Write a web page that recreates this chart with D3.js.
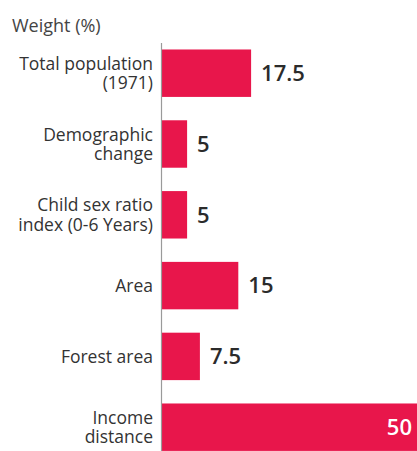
<!DOCTYPE html>
<html>
<head>
<meta charset="utf-8">
<script src="https://cdn.jsdelivr.net/npm/d3@7"></script>
<style>
  html, body { margin: 0; padding: 0; background: #fff; }
  svg { display: block; }
</style>
</head>
<body>
<div id="diagram"></div>
<script>
!(function () {
  'use strict'
  // - - - - - - - - - -
  // data
  const categories = [
    ['Total population', '(1971)'],
    ['Demographic', 'change'],
    ['Child sex ratio', 'index (0-6 Years)'],
    ['Area'],
    ['Forest area'],
    ['Income', 'distance']
  ];
  const weights = [17.5, 5, 5, 15, 7.5, 50];
  const valueLabels = ['17.5', '5', '5', '15', '7.5', '50'];

  // canvas
  const w = 417, h = 451;
  const axisX = 161.5;
  const labelX = 153;
  const font = '"Open Sans", "Noto Sans", sans-serif';

  const svg = d3.select('#diagram')
    .append('svg')
    .attr('width', w)
    .attr('height', h);

  const xScale = d3.scaleLinear()
    .domain([0, 50])
    .range([axisX, axisX + 256]);

  const yScale = d3.scaleBand()
    .domain(d3.range(categories.length))
    .range([37.8, 462.6])
    .paddingInner(0.33)
    .paddingOuter(0.165);

  // axis title
  svg.append('text')
    .attr('x', 12)
    .attr('y', 32)
    .attr('font-family', font)
    .attr('font-size', 18)
    .attr('fill', '#444')
    .text('Weight (%)');

  // bars
  svg.selectAll('rect.bar')
    .data(weights)
    .enter().append('rect')
    .attr('class', 'bar')
    .attr('x', xScale(0))
    .attr('y', (d, i) => yScale(i))
    .attr('width', d => xScale(d) - xScale(0))
    .attr('height', yScale.bandwidth())
    .attr('fill', '#e8164b');

  // axis line
  svg.append('line')
    .attr('x1', axisX).attr('x2', axisX)
    .attr('y1', 43).attr('y2', h)
    .attr('stroke', '#9a9a9a')
    .attr('stroke-width', 1.2);

  // category labels
  const lineH = 19.5;
  categories.forEach(function (lines, i) {
    const cy = yScale(i) + yScale.bandwidth() / 2;
    const y0 = cy - (lines.length - 1) * lineH / 2 + 6.3;
    lines.forEach(function (s, j) {
      svg.append('text')
        .attr('x', labelX)
        .attr('y', y0 + j * lineH)
        .attr('text-anchor', 'end')
        .attr('font-family', font)
        .attr('font-size', 17.5)
        .attr('fill', '#333')
        .text(s);
    });
  });

  // value labels
  const inside = d => xScale(d) > w - 40;
  svg.selectAll('text.val')
    .data(weights)
    .enter().append('text')
    .attr('class', 'val')
    .attr('x', d => inside(d) ? w - 5 : xScale(d) + 10)
    .attr('y', (d, i) => yScale(i) + yScale.bandwidth() / 2 + 7.8)
    .attr('text-anchor', d => inside(d) ? 'end' : 'start')
    .attr('font-family', font)
    .attr('font-size', 22)
    .attr('font-weight', 600)
    .attr('fill', d => inside(d) ? '#fff' : '#2b2b2b')
    .text((d, i) => valueLabels[i]);
  // - - - - - - - - - -
}())
</script>
</body>
</html>
